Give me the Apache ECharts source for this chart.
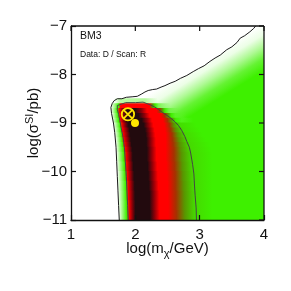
<!DOCTYPE html>
<html><head><meta charset="utf-8">
<script src="https://cdn.jsdelivr.net/npm/echarts@6/dist/echarts.min.js"></script>
<style>html,body{margin:0;padding:0;background:#fff}#c{width:291px;height:291px}</style>
</head><body><div id="c"></div>
<script>
// ---- data ----
const xTicks = [1, 2, 3, 4];
const yTicks = [-11, -10, -9, -8, -7];
// horizontal bands of the density map (y edges), and colour-level profiles along x
// levels: 0 white, 1 green, 2 olive, 3 brown, 4 red, 5 dark red, 6 black, -1 fade to background
const rowEdges = [-8.5,-8.6,-8.7,-8.8,-8.9,-9.0,-9.1,-9.2,-9.3,-9.4,-9.5,-9.6,-9.8,-10.0,-10.2,-10.4,-10.6,-10.8,-11.0];
const rowStops = [
 [[1.5,0],[1.67,0],[1.76,0.35],[2.15,0.4],[2.35,-1]],
 [[1.5,0],[1.62,0],[1.68,0.5],[1.74,1],[1.77,4],[2.22,4],[2.27,2],[2.31,1],[2.36,0.7],[2.55,-1]],
 [[1.5,0],[1.62,0],[1.67,0.5],[1.72,1],[1.75,4],[1.8,5],[1.86,6],[2.0,6],[2.1,5],[2.18,4],[2.33,4],[2.38,3],[2.42,2],[2.46,1],[2.52,0.75],[2.7,-1]],
 [[1.5,0],[1.63,0],[1.68,0.5],[1.73,1],[1.76,4],[1.81,5],[1.86,6],[2.05,6],[2.14,5],[2.22,4],[2.4,4],[2.46,3],[2.51,2],[2.56,1],[2.62,0.85],[2.8,-1]],
 [[1.5,0],[1.64,0],[1.69,0.5],[1.74,1],[1.77,4],[1.82,5],[1.87,6],[2.1,6],[2.18,5],[2.26,4],[2.43,4],[2.5,3],[2.57,2],[2.63,1],[2.72,0.9],[2.9,-1]],
 [[1.5,0],[1.66,0],[1.71,0.5],[1.76,1],[1.79,4],[1.84,5],[1.89,6],[2.13,6],[2.2,5],[2.28,4],[2.45,4],[2.53,3],[2.6,2],[2.7,1.2],[2.95,1]],
 [[1.5,0],[1.67,0],[1.72,0.5],[1.77,1],[1.8,4],[1.86,5],[1.91,6],[2.15,6],[2.22,5],[2.3,4],[2.46,4],[2.55,3],[2.63,2],[2.74,1.2],[3.0,1]],
 [[1.5,0],[1.68,0],[1.73,0.5],[1.78,1],[1.81,4],[1.87,5],[1.92,6],[2.16,6],[2.23,5],[2.31,4],[2.47,4],[2.57,3],[2.66,2],[2.78,1.25],[3.05,1]],
 [[1.5,0],[1.69,0],[1.74,0.5],[1.79,1],[1.82,4],[1.88,5],[1.93,6],[2.17,6],[2.24,5],[2.32,4],[2.47,4],[2.58,3],[2.68,2],[2.81,1.25],[3.1,1]],
 [[1.5,0],[1.695,0],[1.745,0.5],[1.8,1],[1.83,4],[1.89,5],[1.94,6],[2.17,6],[2.24,5],[2.32,4],[2.47,4],[2.59,3],[2.7,2],[2.84,1.25],[3.15,1]],
 [[1.5,0],[1.7,0],[1.75,0.5],[1.81,1],[1.845,4],[1.9,5],[1.95,6],[2.18,6],[2.25,5],[2.33,4],[2.47,4],[2.6,3],[2.71,2],[2.86,1.25],[3.18,1]],
 [[1.5,0],[1.705,0],[1.76,0.5],[1.82,1],[1.855,4],[1.91,5],[1.96,6],[2.18,6],[2.25,5],[2.33,4],[2.47,4],[2.6,3],[2.72,2],[2.88,1.25],[3.2,1]],
 [[1.5,0],[1.71,0],[1.77,0.5],[1.83,1],[1.865,4],[1.92,5],[1.97,6],[2.19,6],[2.26,5],[2.34,4],[2.48,4],[2.61,3],[2.73,2],[2.89,1.25],[3.2,1]],
 [[1.5,0],[1.72,0],[1.78,0.5],[1.84,1],[1.875,4],[1.93,5],[1.98,6],[2.2,6],[2.27,5],[2.35,4],[2.49,4],[2.62,3],[2.74,2],[2.9,1.25],[3.2,1]],
 [[1.5,0],[1.725,0],[1.785,0.5],[1.85,1],[1.885,4],[1.94,5],[1.99,6],[2.21,6],[2.28,5],[2.36,4],[2.5,4],[2.62,3],[2.75,2],[2.91,1.25],[3.2,1]],
 [[1.5,0],[1.73,0],[1.79,0.5],[1.855,1],[1.89,4],[1.945,5],[1.995,6],[2.22,6],[2.29,5],[2.37,4],[2.5,4],[2.63,3],[2.76,2],[2.92,1.25],[3.2,1]],
 [[1.5,0],[1.735,0],[1.795,0.5],[1.86,1],[1.9,4],[1.95,5],[2.0,6],[2.22,6],[2.29,5],[2.37,4],[2.51,4],[2.63,3],[2.76,2],[2.92,1.25],[3.2,1]],
 [[1.5,0],[1.74,0],[1.8,0.5],[1.865,1],[1.905,4],[1.955,5],[2.0,6],[2.23,6],[2.3,5],[2.38,4],[2.51,4],[2.64,3],[2.77,2],[2.93,1.25],[3.2,1]]
];
// outer (black) contour
const outerX = [1.75,1.74,1.73,1.72,1.71,1.70,1.68,1.66,1.63,1.62,1.64,1.67,1.72,1.79,1.86,1.95,2.03,2.1,2.15,2.2,2.27,2.33,2.4,2.46,2.54,2.62,2.7,2.8,2.9,2.98,3.07,3.16,3.24,3.32,3.42,3.5,3.58,3.63,3.7,3.78,3.84,3.87];
const outerY = [-11,-10.7,-10.4,-10.1,-9.8,-9.5,-9.2,-9.0,-8.8,-8.68,-8.6,-8.54,-8.5,-8.5,-8.47,-8.46,-8.45,-8.4,-8.36,-8.33,-8.31,-8.3,-8.26,-8.23,-8.18,-8.14,-8.08,-8.02,-7.94,-7.88,-7.82,-7.73,-7.66,-7.6,-7.49,-7.43,-7.34,-7.25,-7.2,-7.12,-7.05,-7.0];
// inner (grey) contour
const innerX = [1.89,1.88,1.87,1.86,1.845,1.83,1.81,1.78,1.76,1.74,1.72,1.72,1.75,1.85,2.0,2.12,2.18,2.24,2.3,2.36,2.42,2.5,2.57,2.62,2.67,2.72,2.77,2.8,2.84,2.86,2.89,2.91,2.92,2.93,2.945,2.95];
const innerY = [-11,-10.7,-10.4,-10.1,-9.8,-9.5,-9.3,-9.1,-8.95,-8.82,-8.72,-8.64,-8.6,-8.58,-8.58,-8.57,-8.6,-8.63,-8.67,-8.72,-8.78,-8.85,-8.92,-8.98,-9.05,-9.15,-9.28,-9.38,-9.5,-9.62,-9.85,-10.05,-10.3,-10.5,-10.75,-11];
// top edge of the white-to-green fade (along the upper contour)
const fadeLine = [[2.33,-8.3],[3.84,-7.05]];
const bestFit = [[1.885,-8.82]];
const meanPoint = [[1.995,-9.0]];

// ---- styling ----
const FONT = 'Liberation Sans, Arial, Helvetica, sans-serif';
const levelColors = [[255,255,255],[62,240,0],[88,150,0],[165,50,0],[255,0,0],[140,0,8],[34,10,14]];
function lvColor(lv, alpha){
  const a = Math.max(0, Math.min(6, lv));
  const i = Math.floor(a), t = a - i;
  const c0 = levelColors[i], c1 = levelColors[Math.min(6, i+1)];
  const c = c0.map((v,k)=>Math.round(v + (c1[k]-v)*t));
  return 'rgba('+c[0]+','+c[1]+','+c[2]+','+(alpha==null?1:alpha)+')';
}
const fmt = v => String(v).replace('-', '\u2212');

const chart = echarts.init(document.getElementById('c'), null, {renderer:'canvas'});
const lineSt = {color:'#111', width:1.3};
const tickSt = {show:true, inside:true, length:5, lineStyle:{color:'#111', width:1.2}};
const polygonPts = outerX.map((x,i)=>[x, outerY[i]]).concat([[4,-7],[4,-11]]);
const X0 = xTicks[0], X1 = xTicks[xTicks.length-1], Y0 = yTicks[0], Y1 = yTicks[yTicks.length-1];

chart.setOption({
  animation:false,
  backgroundColor:'#fff',
  grid:{left:71, right:27, top:26, bottom:71},
  title:[
    {text:'BM3', left:80, top:31, padding:0, textStyle:{fontSize:10.5, fontWeight:'normal', color:'#111', fontFamily:FONT}},
    {text:'Data: D / Scan: R', left:80, top:50, padding:0, textStyle:{fontSize:8.5, fontWeight:'normal', color:'#111', fontFamily:FONT}}
  ],
  xAxis:{type:'value', position:'bottom', z:10, min:X0, max:X1, interval:1,
      axisLine:{show:true, onZero:false, lineStyle:lineSt}, axisTick:tickSt, splitLine:{show:false},
      axisLabel:{formatter:fmt, fontSize:15, color:'#111', margin:7, fontFamily:FONT},
      name:'log(m{sub|\u03c7}/GeV)', nameLocation:'middle', nameGap:19, nameMoveOverlap:false,
      nameTextStyle:{fontSize:15, color:'#111', fontFamily:FONT, verticalAlign:'top', rich:{sub:{fontSize:11, padding:[9,0,0,0], fontFamily:FONT, color:'#111'}}}},
  yAxis:{type:'value', position:'left', z:10, min:Y0, max:Y1, interval:1,
      axisLine:{show:true, onZero:false, lineStyle:lineSt}, axisTick:tickSt, splitLine:{show:false},
      axisLabel:{formatter:fmt, fontSize:15, color:'#111', margin:4, fontFamily:FONT},
      name:'log(\u03c3{sup|SI}/pb)', nameLocation:'middle', nameGap:27, nameMoveOverlap:false,
      nameTextStyle:{fontSize:15, color:'#111', fontFamily:FONT, rich:{sup:{fontSize:11, padding:[0,0,9,0], fontFamily:FONT, color:'#111'}}}},
  series:[
    { // green field inside outer contour with white fade along its upper edge
      type:'custom', z:1, clip:true, silent:true,
      data:[[polygonPts[0][0], polygonPts[0][1]]],
      renderItem:function(params, api){
        const pts = polygonPts.map(p=>api.coord(p));
        const p1 = api.coord(fadeLine[0]), p2 = api.coord(fadeLine[1]);
        const dx = p2[0]-p1[0], dy = p2[1]-p1[1], L = Math.hypot(dx,dy);
        const nx = -dy/L, ny = dx/L;
        const vpx = api.size([0,1.0])[1];
        const D = vpx * Math.abs(dx)/L;
        return {type:'polygon', shape:{points:pts}, style:{fill:{
          type:'linear', global:true, x:p1[0], y:p1[1], x2:p1[0]+nx*D, y2:p1[1]+ny*D,
          colorStops:[{offset:0,color:lvColor(0)},{offset:0.25,color:lvColor(0.1)},{offset:0.5,color:lvColor(0.42)},{offset:0.75,color:lvColor(0.8)},{offset:1,color:lvColor(1)}]
        }}};
      }
    },
    { // density bands
      type:'custom', z:2, clip:true, silent:true,
      data: rowStops.map((s,i)=>[s[0][0], rowEdges[i]]),
      renderItem:function(params, api){
        const i = params.dataIndex, s = rowStops[i];
        const x0 = s[0][0], x1 = s[s.length-1][0];
        const a = api.coord([x0, rowEdges[i]]), b = api.coord([x1, rowEdges[i+1]]);
        const stops = s.map((st,k)=>{
          let col;
          if (st[1] < 0) col = lvColor(s[k-1][1], 0); else col = lvColor(st[1]);
          return {offset:(st[0]-x0)/(x1-x0), color:col};
        });
        return {type:'rect', shape:{x:a[0], y:a[1]-0.4, width:b[0]-a[0], height:b[1]-a[1]+0.8},
          style:{fill:{type:'linear', x:0, y:0, x2:1, y2:0, colorStops:stops}}};
      }
    },
    {type:'line', z:3, silent:true, showSymbol:false, symbol:'none', clip:true,
     data: innerX.map((x,i)=>[x, innerY[i]]), lineStyle:{color:'#444', width:1}},
    {type:'line', z:3, silent:true, showSymbol:false, symbol:'none', clip:true,
     data: outerX.map((x,i)=>[x, outerY[i]]), lineStyle:{color:'#1a1a1a', width:1}},
    { // best-fit marker: circle with cross
      type:'custom', z:4, silent:true, data:bestFit,
      renderItem:function(params, api){
        const c = api.coord([api.value(0), api.value(1)]);
        const r = 6.2, d = r*0.72;
        const st = {stroke:'#ffe600', lineWidth:1.8, fill:null};
        return {type:'group', children:[
          {type:'circle', shape:{cx:c[0], cy:c[1], r:r}, style:st},
          {type:'line', shape:{x1:c[0]-d, y1:c[1]-d, x2:c[0]+d, y2:c[1]+d}, style:st},
          {type:'line', shape:{x1:c[0]-d, y1:c[1]+d, x2:c[0]+d, y2:c[1]-d}, style:st}
        ]};
      }
    },
    {type:'scatter', z:5, silent:true, data:meanPoint, symbol:'circle', symbolSize:8,
     itemStyle:{color:'#ffe600', borderWidth:0, opacity:1}},
    { // top and right frame lines with inward ticks, placed through the axes' scales
      type:'custom', z:11, silent:true, clip:false, data:[[X0, Y1]],
      renderItem:function(params, api){
        const tl = api.coord([X0, Y1]), br = api.coord([X1, Y0]);
        const st = {stroke:'#111', lineWidth:1.3};
        const kids = [
          {type:'line', shape:{x1:tl[0], y1:tl[1], x2:br[0], y2:tl[1]}, style:st},
          {type:'line', shape:{x1:br[0], y1:tl[1], x2:br[0], y2:br[1]}, style:st}
        ];
        xTicks.forEach(v=>{ const p = api.coord([v, Y1]);
          kids.push({type:'line', shape:{x1:p[0], y1:p[1], x2:p[0], y2:p[1]+5}, style:{stroke:'#111', lineWidth:1.2}}); });
        yTicks.forEach(v=>{ const p = api.coord([X1, v]);
          kids.push({type:'line', shape:{x1:p[0], y1:p[1], x2:p[0]-5, y2:p[1]}, style:{stroke:'#111', lineWidth:1.2}}); });
        return {type:'group', children:kids};
      }
    }
  ]
});
</script></body></html>
